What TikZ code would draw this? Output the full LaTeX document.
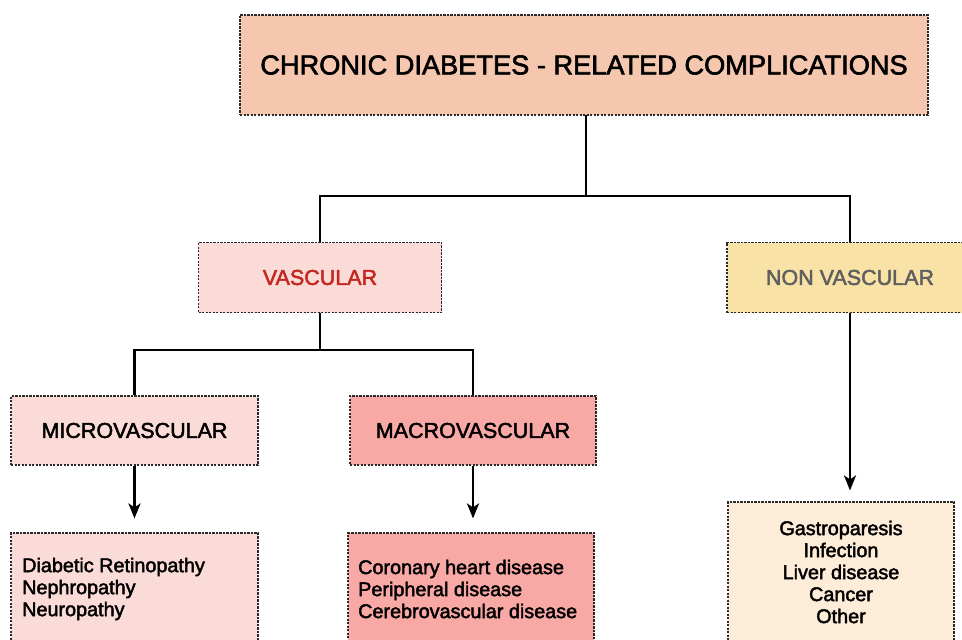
\documentclass[tikz,border=0pt]{standalone}
\usepackage{fontspec}
\setmainfont{Liberation Sans}[FakeBold=2.2]
\usetikzlibrary{arrows.meta}

\definecolor{topfill}{HTML}{F5C7AF}
\definecolor{pinkfill}{HTML}{FADBD7}
\definecolor{salmonfill}{HTML}{F9A9A5}
\definecolor{yellowfill}{HTML}{F9E2A6}
\definecolor{creamfill}{HTML}{FDECD8}
\definecolor{vascred}{HTML}{C4271F}
\definecolor{nvgray}{HTML}{5F5F5F}
\definecolor{borderc}{HTML}{2A2A2A}

\tikzset{
  box/.style={draw=borderc, line width=1.1pt, dash pattern=on 2.2pt off 1.3pt,
    rectangle, inner sep=0pt, align=center},
  headbox/.style={box, font=\fontsize{21.5}{24}\selectfont, minimum height=70pt},
  listbox/.style={box, font=\fontsize{19.8}{22}\selectfont},
  conn/.style={line width=2.6pt, draw=black},
  arr/.style={conn, line width=2.8pt, -{Stealth[length=15pt,width=12pt,inset=4pt]}}
}

\begin{document}
\begin{tikzpicture}[x=1pt, y=-1pt]
\useasboundingbox (0,0) rectangle (962,640);
\clip (0,0) rectangle (962,640);

% title
\node[box, fill=topfill, minimum width=688pt, minimum height=100pt,
      font=\fontsize{27.2}{30}\selectfont] (top) at (584,65)
      {CHRONIC DIABETES - RELATED COMPLICATIONS};

% second level
\node[headbox, fill=pinkfill, minimum width=243pt, text=vascred] (vasc) at (320,277.5) {VASCULAR};
\node[headbox, fill=yellowfill, minimum width=246pt, text=nvgray] (nonvasc) at (850,277.5) {NON VASCULAR};

% third level
\node[headbox, fill=pinkfill, minimum width=247pt, minimum height=69pt] (micro) at (134.5,430.5) {MICROVASCULAR};
\node[headbox, fill=salmonfill, minimum width=246pt, minimum height=69pt] (macro) at (473,430.5) {MACROVASCULAR};

% lists
\node[listbox, fill=pinkfill, minimum width=247pt, minimum height=112pt] (microlist) at (134.5,589) {};
\node[font=\fontsize{19.8}{22}\selectfont, anchor=west, align=left, inner sep=0pt] (microtxt) at (22,589)
  {Diabetic Retinopathy\\Nephropathy\\Neuropathy};
\node[listbox, fill=salmonfill, minimum width=246pt, minimum height=112pt] (macrolist) at (471,589) {};
\node[font=\fontsize{19.8}{22}\selectfont, anchor=west, align=left, inner sep=0pt] (macrotxt) at (358,589)
  {Coronary heart disease\\Peripheral disease\\Cerebrovascular disease};
\node[listbox, fill=creamfill, minimum width=226pt, minimum height=140pt] (nvlist) at (841,572)
  {Gastroparesis\\Infection\\Liver disease\\Cancer\\Other};

% connectors
\coordinate (j1) at (586,196);
\draw[conn] (586,115) -- (j1);
\draw[conn] (vasc.north) |- (j1) -| (nonvasc.north);
\coordinate (j2) at (vasc.south |- 0,350);
\draw[conn] (vasc.south) -- (j2);
\draw[conn] (micro.north) |- (j2) -| (macro.north);

% arrows
\draw[arr, shorten >=14pt] (micro.south) -- (micro.south |- microlist.north);
\draw[arr, shorten >=14pt] (macro.south) -- (macro.south |- macrolist.north);
\draw[arr, shorten >=11pt] (nonvasc.south) -- (nonvasc.south |- nvlist.north);
\end{tikzpicture}
\end{document}
